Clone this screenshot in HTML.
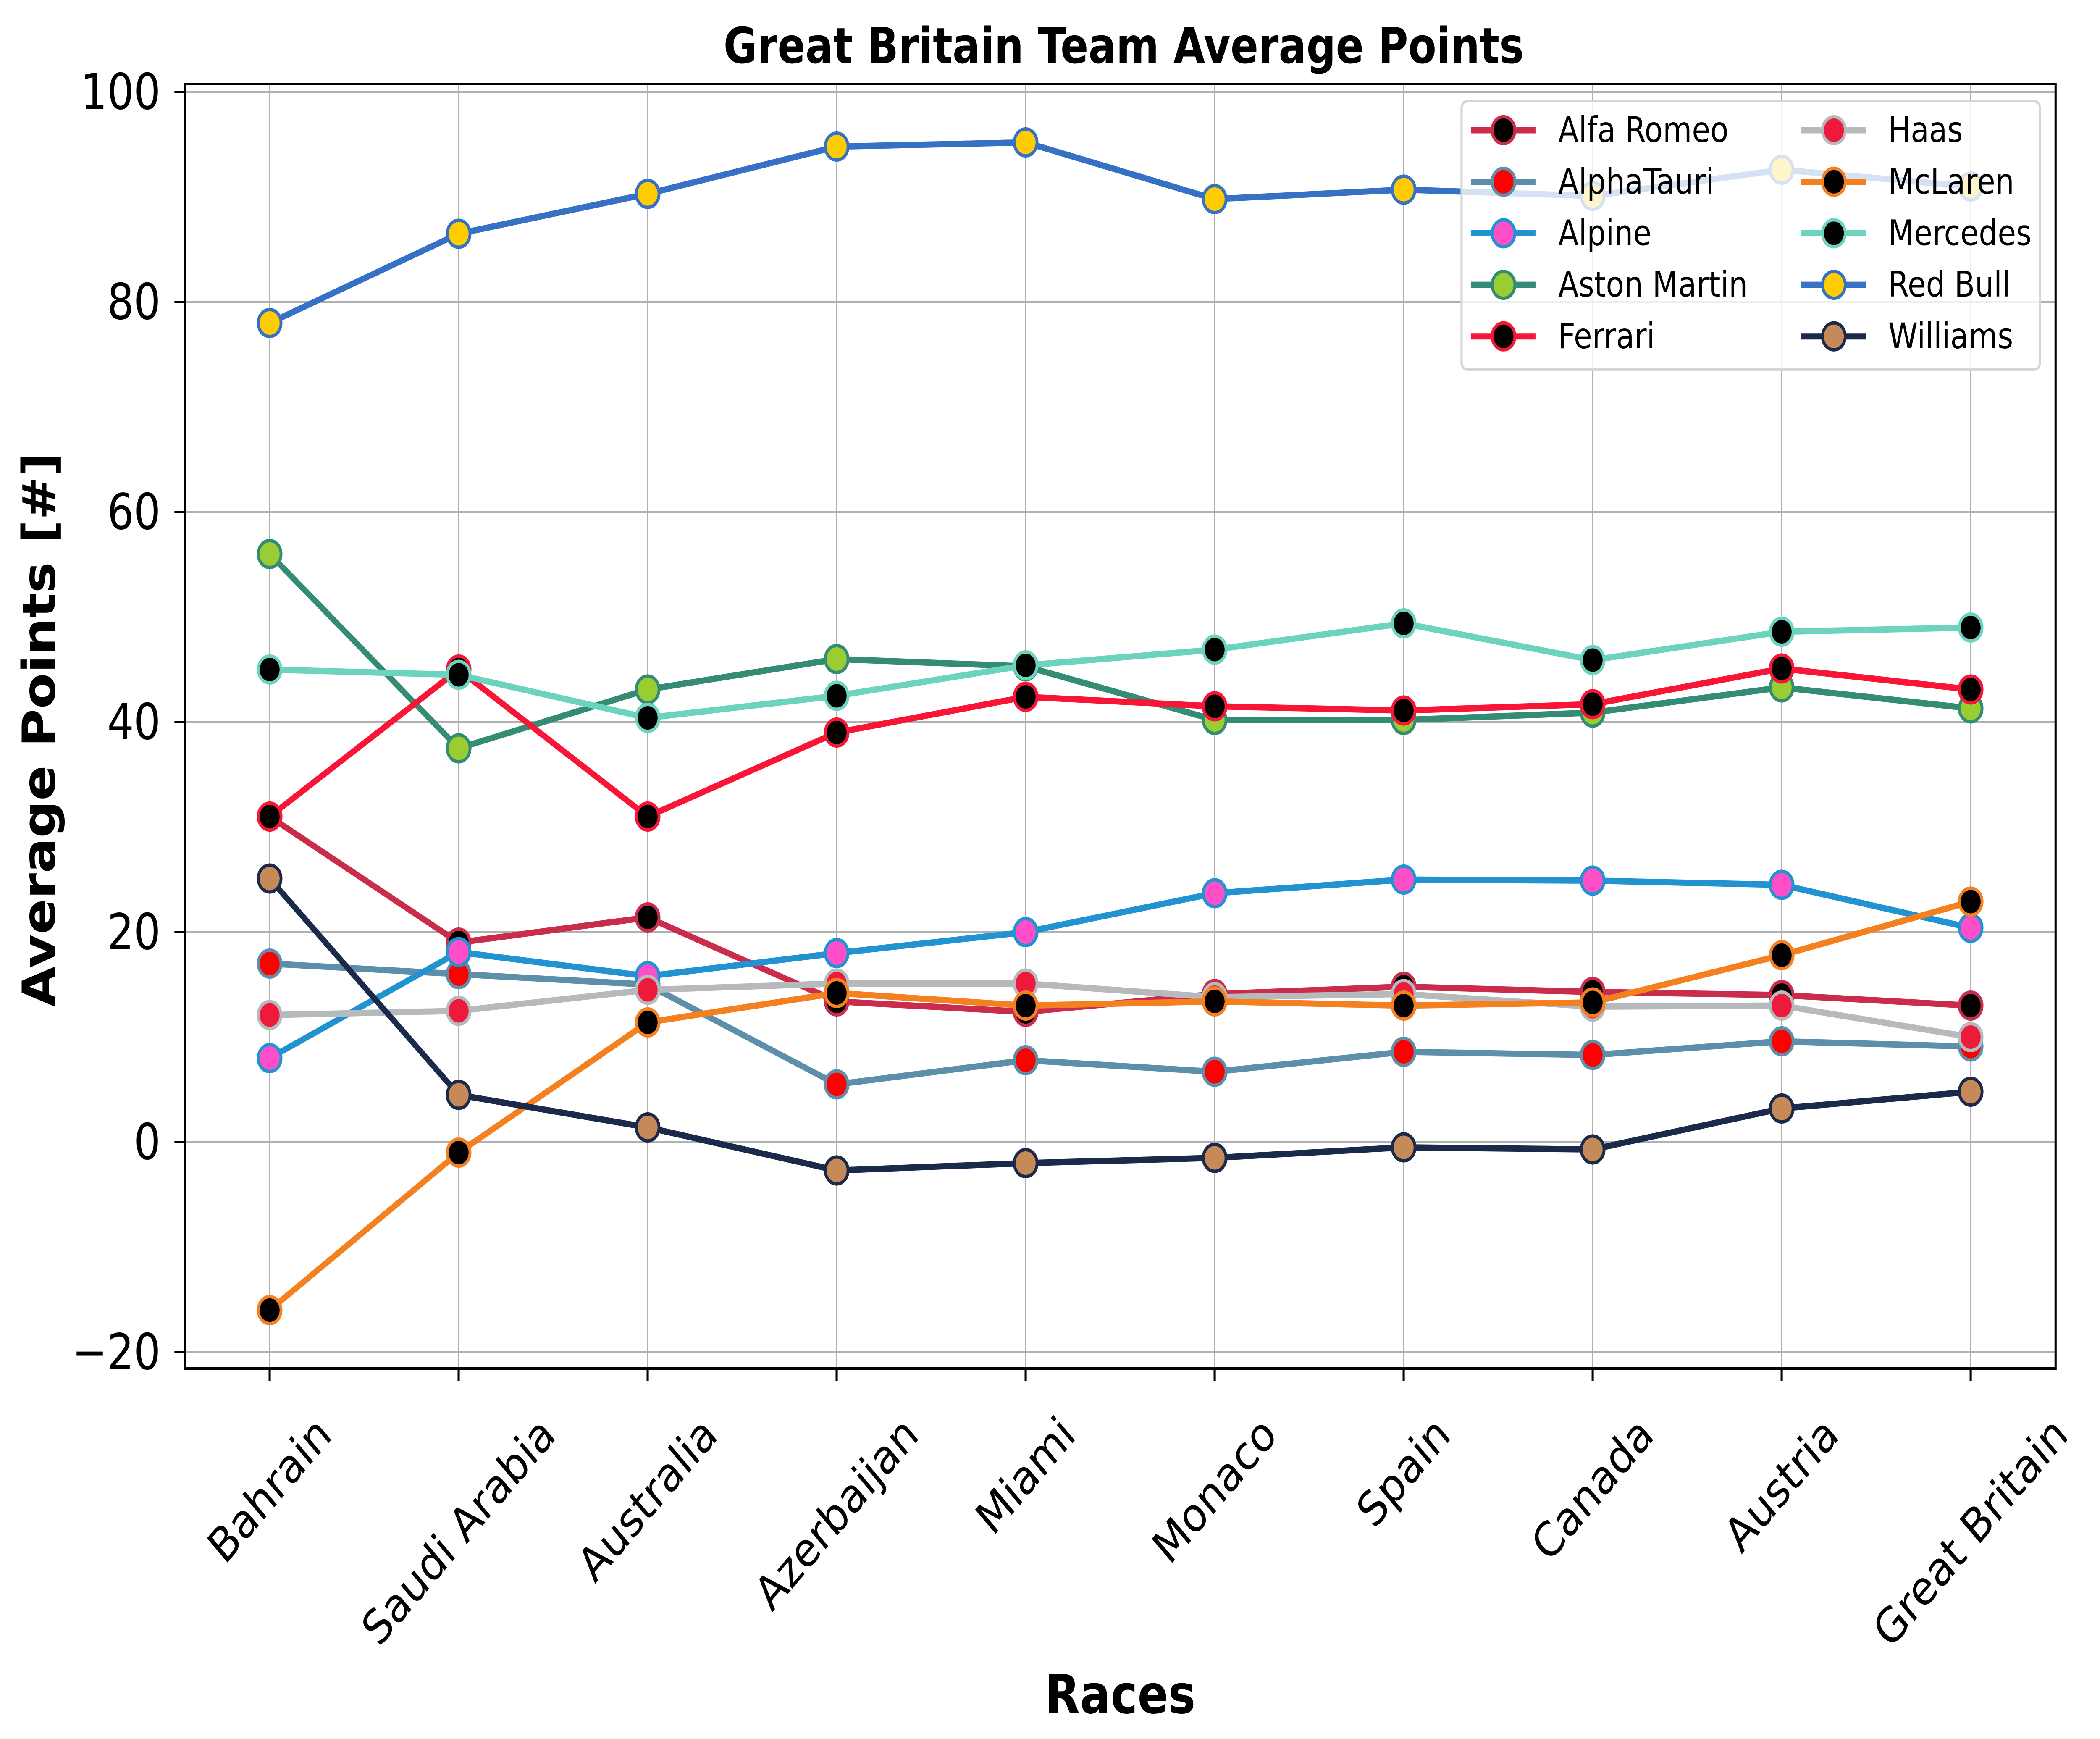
<!DOCTYPE html>
<html><head><meta charset="utf-8">
<style>html,body{margin:0;padding:0;background:#fff;width:100%;height:100%;overflow:hidden}svg{display:block;width:100vw;height:100vh}</style>
</head><body>
<svg id="chart" xmlns="http://www.w3.org/2000/svg" viewBox="0 0 5911 4140" preserveAspectRatio="none" font-family="'DejaVu Sans','Liberation Sans',sans-serif">
<rect x="0" y="0" width="5911" height="4140" fill="#fff"/>
<g id="grid"></g>
<g id="series"></g>
<rect x="520" y="200" width="5266" height="3058" fill="none" stroke="#000" stroke-width="6"/>
<g id="yticks"></g>
<g id="xticks"></g>
<text x="3163" y="150" text-anchor="middle" font-weight="bold" font-size="118" textLength="2253" lengthAdjust="spacingAndGlyphs">Great Britain Team Average Points</text>
<text transform="translate(154,1737) rotate(-90)" text-anchor="middle" font-weight="bold" font-size="128" textLength="1320" lengthAdjust="spacingAndGlyphs">Average Points [#]</text>
<text x="3153" y="4078" text-anchor="middle" font-weight="bold" font-size="128">Races</text>
<g id="legend"></g>
</svg>
<script>
const races = ["Bahrain","Saudi Arabia","Australia","Azerbaijan","Miami","Monaco","Spain","Canada","Austria","Great Britain"];
const teams = ["Alfa Romeo","AlphaTauri","Alpine","Aston Martin","Ferrari","Haas","McLaren","Mercedes","Red Bull","Williams"];
const alfaRomeo = [31, 19, 21.4, 13.4, 12.4, 14.1, 14.8, 14.3, 14.0, 13.0];
const alphaTauri = [17, 16, 15, 5.5, 7.8, 6.7, 8.6, 8.3, 9.6, 9.1];
const alpine = [8.0, 18.1, 15.8, 18.0, 20.0, 23.7, 25.0, 24.9, 24.5, 20.4];
const astonMartin = [56.0, 37.5, 43.1, 46.0, 45.3, 40.2, 40.2, 40.9, 43.3, 41.3];
const ferrari = [31, 45.0, 31, 39.0, 42.4, 41.5, 41.1, 41.7, 45.1, 43.1];
const haas = [12.1, 12.5, 14.5, 15.1, 15.1, 13.8, 14.1, 12.9, 13.0, 10.0];
const mcLaren = [-16, -1.0, 11.4, 14.2, 13.0, 13.4, 13.0, 13.3, 17.8, 22.9];
const mercedes = [45.0, 44.5, 40.4, 42.5, 45.4, 46.9, 49.4, 45.9, 48.6, 49.0];
const redBull = [78.0, 86.5, 90.3, 94.8, 95.2, 89.8, 90.7, 90.1, 92.6, 91.0];
const williams = [25.1, 4.5, 1.4, -2.7, -2.0, -1.5, -0.5, -0.7, 3.2, 4.8];
const yTicks = [-20, 0, 20, 40, 60, 80, 100];

const seriesData = [alfaRomeo, alphaTauri, alpine, astonMartin, ferrari, haas, mcLaren, mercedes, redBull, williams];
const lineColors = ["#C92D4B","#5E8FAA","#2293D1","#358C75","#F91536","#B6BABD","#F58020","#6CD3BF","#3671C6","#1B2A4A"];
const fillColors = ["#000000","#FF0000","#FF4FC8","#9ACD32","#000000","#ED1A3B","#000000","#000000","#FFCC00","#C68958"];

const NS = "http://www.w3.org/2000/svg";
const X0 = 759, DX = 532, Y100 = 219, PPU = 25;
function xScale(i){ return X0 + i*DX; }
function yScale(v){ return Y100 + (100 - v)*PPU; }
function mk(tag, attrs, parent){ const e=document.createElementNS(NS,tag); for(const k in attrs) e.setAttribute(k,attrs[k]); parent.appendChild(e); return e; }

const grid = document.getElementById('grid');
const yt = document.getElementById('yticks');
const xt = document.getElementById('xticks');
yTicks.forEach(v=>{
  const y=yScale(v);
  const gl=mk('line',{x1:520,x2:5786,y1:y,y2:y,stroke:'#b0b0b0','stroke-width':4},grid);
  
  
  const tk=mk('line',{x1:491,x2:520,y1:y,y2:y,stroke:'#000','stroke-width':6},yt);
  
  
  const t=mk('text',{x:452,y:y,'text-anchor':'end','dominant-baseline':'central','font-size':118},yt);
  t.textContent = v<0 ? '\u2212'+Math.abs(v) : String(v);
  
  
});
races.forEach((r,i)=>{
  const x=xScale(i);
  const gl=mk('line',{x1:x,x2:x,y1:200,y2:3258,stroke:'#b0b0b0','stroke-width':4},grid);
  
  
  const tk=mk('line',{x1:x,x2:x,y1:3258,y2:3287,stroke:'#000','stroke-width':6},xt);
  
  
  const t=mk('text',{'text-anchor':'middle','dominant-baseline':'central','font-size':112},xt);
  t.textContent=r;
  
  
  const W=t.getComputedTextLength(); const h=112;
  const half=(W*0.7071+h*0.7071)/2;
  t.setAttribute('transform','translate('+x+','+(3355+half)+') rotate(-45)');
});

const sg=document.getElementById('series');
seriesData.forEach((vals,s)=>{
  const g=mk('g',{},sg);
  
  
  const pts=vals.map((v,i)=>xScale(i)+','+yScale(v)).join(' ');
  const pl=mk('polyline',{points:pts,fill:'none',stroke:lineColors[s],'stroke-width':15,'stroke-linejoin':'round'},g);
  
  
  vals.forEach((v,i)=>{
    const c=mk('circle',{cx:xScale(i),cy:yScale(v),r:32,fill:fillColors[s],stroke:lineColors[s],'stroke-width':8},g);
    
    
  });
});

const lg=document.getElementById('legend');
const box=mk('rect',{x:4114,y:241,width:1628,height:639,rx:16,fill:'#fff','fill-opacity':0.8,stroke:'#d6d6d6','stroke-width':6},lg);


teams.forEach((name,s)=>{
  const col=Math.floor(s/5), row=s%5;
  const hx0=col?5070:4140, hx1=col?5253:4322, mx=col?5162:4232, tx=col?5315:4386;
  const y=310+row*122.7;
  const e=mk('g',{},lg);
  
  
  mk('line',{x1:hx0,x2:hx1,y1:y,y2:y,stroke:lineColors[s],'stroke-width':15},e);
  mk('circle',{cx:mx,cy:y,r:32,fill:fillColors[s],stroke:lineColors[s],'stroke-width':8},e);
  const t=mk('text',{x:tx,y:y,'dominant-baseline':'central','font-size':84},e);
  t.textContent=name;
  
  
});
</script>
</body></html>
